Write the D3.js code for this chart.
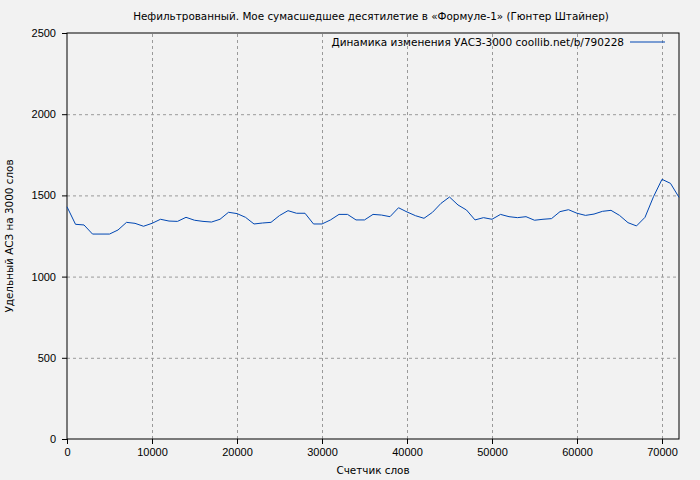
<!DOCTYPE html>
<html>
<head>
<meta charset="utf-8">
<script src="https://cdn.jsdelivr.net/npm/d3@7"></script>
<style>
  body { margin: 0; background: #f2f2f2; }
  svg { display: block; font-family: "DejaVu Sans", Verdana, sans-serif; }
  .grid line { stroke: #9a9a9a; stroke-dasharray: 3,3; }
  .grid .domain { display: none; }
  .axis text { font-size: 11px; fill: #000; }
</style>
</head>
<body>
<div id="chart"></div>
<script>
const margin = { top: 33, right: 21, bottom: 41, left: 67 };
const width = 700 - margin.left - margin.right;
const height = 480 - margin.top - margin.bottom;

// word counter, step 1000
const words = d3.range(0, 73000, 1000);
// values
const values = [1430, 1322, 1318, 1262, 1262, 1262, 1287, 1334, 1328, 1310,
    1328, 1353, 1342, 1340, 1365, 1347, 1340, 1336, 1353, 1396,
    1388, 1365, 1324, 1330, 1334, 1376, 1406, 1390, 1390, 1324,
    1324, 1349, 1383, 1383, 1349, 1349, 1383, 1379, 1369, 1424,
    1398, 1375, 1359, 1396, 1451, 1490, 1441, 1410, 1349, 1363,
    1353, 1383, 1369, 1363, 1369, 1347, 1353, 1357, 1400, 1412,
    1390, 1377, 1385, 1402, 1408, 1377, 1332, 1312, 1365, 1492,
    1599, 1574, 1488];

const xTicks = [0, 10000, 20000, 30000, 40000, 50000, 60000, 70000];
const yTicks = [0, 500, 1000, 1500, 2000, 2500];

const title = "Нефильтрованный. Мое сумасшедшее десятилетие в «Формуле-1» (Гюнтер Штайнер)";
const legendLabel = "Динамика изменения УАСЗ-3000 coollib.net/b/790228";
const xLabel = "Счетчик слов";
const yLabel = "Удельный АСЗ на 3000 слов";

const svg = d3.select("#chart").append("svg")
    .attr("width", 700)
    .attr("height", 480);

const g = svg.append("g")
    .attr("transform", `translate(${margin.left},${margin.top})`);

const x = d3.scaleLinear().domain([0, 72000]).range([0, width]);
const y = d3.scaleLinear().domain([0, 2500]).range([height, 0]);

// grid
g.append("g")
    .attr("class", "grid")
    .attr("transform", `translate(0,${height})`)
    .call(d3.axisBottom(x).tickValues(xTicks.slice(1)).tickSize(-height).tickFormat(""));
g.append("g")
    .attr("class", "grid")
    .call(d3.axisLeft(y).tickValues(yTicks.slice(1, -1)).tickSize(-width).tickFormat(""));

// frame
g.append("rect")
    .attr("width", width)
    .attr("height", height)
    .attr("fill", "none")
    .attr("stroke", "#000");

// axes
g.append("g")
    .attr("class", "axis")
    .attr("transform", `translate(0,${height})`)
    .call(d3.axisBottom(x).tickValues(xTicks).tickSize(5).tickPadding(4).tickFormat(d3.format("d")))
    .call(a => a.select(".domain").remove());
g.append("g")
    .attr("class", "axis")
    .call(d3.axisLeft(y).tickValues(yTicks).tickSize(5).tickPadding(6).tickFormat(d3.format("d")))
    .call(a => a.select(".domain").remove());

// line
const line = d3.line()
    .x((d, i) => x(words[i]))
    .y(d => y(d));

g.append("path")
    .datum(values)
    .attr("fill", "none")
    .attr("stroke", "#0047b3")
    .attr("stroke-width", 1)
    .attr("d", line);

// legend
g.append("text")
    .attr("x", 557)
    .attr("y", 13)
    .attr("text-anchor", "end")
    .attr("font-size", 10.5)
    .text(legendLabel);
g.append("line")
    .attr("x1", 563)
    .attr("x2", 598)
    .attr("y1", 9)
    .attr("y2", 9)
    .attr("stroke", "#0047b3");

// titles
svg.append("text")
    .attr("x", 371)
    .attr("y", 20)
    .attr("text-anchor", "middle")
    .attr("font-size", 10.4)
    .text(title);
svg.append("text")
    .attr("x", margin.left + width / 2)
    .attr("y", 474)
    .attr("text-anchor", "middle")
    .attr("font-size", 10.4)
    .text(xLabel);
svg.append("text")
    .attr("transform", `translate(13,${margin.top + height / 2}) rotate(-90)`)
    .attr("text-anchor", "middle")
    .attr("font-size", 10.4)
    .text(yLabel);
</script>
</body>
</html>
